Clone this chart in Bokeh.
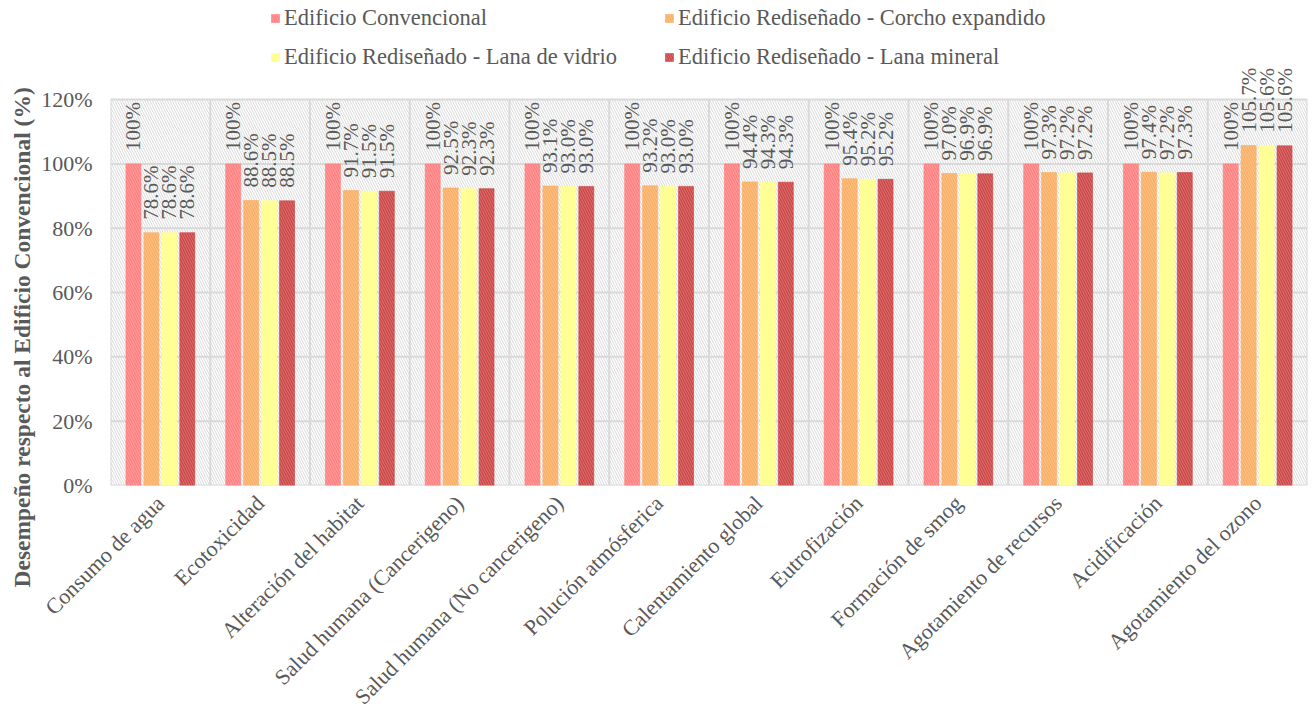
import math
from bokeh.plotting import figure
from bokeh.models import Range1d, FixedTicker, Legend, LegendItem, Title
from bokeh.core.properties import value
from bokeh.embed import file_html
from bokeh.resources import INLINE

categories = [
    "Consumo de agua", "Ecotoxicidad", "Alteración del habitat",
    "Salud humana (Cancerigeno)", "Salud humana (No cancerigeno)",
    "Polución atmósferica", "Calentamiento global", "Eutrofización",
    "Formación de smog", "Agotamiento de recursos", "Acidificación",
    "Agotamiento del ozono",
]
series_names = [
    "Edificio Convencional",
    "Edificio Rediseñado - Corcho expandido",
    "Edificio Rediseñado - Lana de vidrio",
    "Edificio Rediseñado - Lana mineral",
]
convencional = [100, 100, 100, 100, 100, 100, 100, 100, 100, 100, 100, 100]
corcho = [78.6, 88.6, 91.7, 92.5, 93.1, 93.2, 94.4, 95.4, 97.0, 97.3, 97.4, 105.7]
vidrio = [78.6, 88.5, 91.5, 92.3, 93.0, 93.0, 94.3, 95.2, 96.9, 97.2, 97.2, 105.6]
mineral = [78.6, 88.5, 91.5, 92.3, 93.0, 93.0, 94.3, 95.2, 96.9, 97.2, 97.3, 105.6]
y_ticks = [0, 20, 40, 60, 80, 100, 120]
y_tick_labels = ["0%", "20%", "40%", "60%", "80%", "100%", "120%"]
y_title = "Desempeño respecto al Edificio Convencional (%)"

colors = ["#FF7F7F", "#FAAE63", "#FFFF8A", "#CC4545"]
FONT = "Liberation Serif"
TXT = "#595959"
GRID = "#D9D9D9"

n = len(categories)
series = [convencional, corcho, vidrio, mineral]
offsets = [-0.27, -0.09, 0.09, 0.27]
bar_w = 0.15

p = figure(width=1308, height=721, x_range=Range1d(0, n), y_range=Range1d(0, 150.8),
           output_backend="svg", toolbar_location=None,
           min_border_left=110, min_border_right=1, min_border_top=0, min_border_bottom=236)
p.outline_line_color = None
p.xgrid.visible = False
p.ygrid.visible = False

ymax = y_ticks[-1]
# hatched plot area
p.quad(left=0, right=n, bottom=0, top=ymax, fill_color="white",
       hatch_pattern="left_diagonal_line", hatch_color=GRID, hatch_scale=5, hatch_weight=1,
       line_color=None)
# grid lines
p.segment(x0=[0] * len(y_ticks), x1=[n] * len(y_ticks), y0=y_ticks, y1=y_ticks,
          line_color=GRID, line_width=2)
bounds = list(range(n + 1))
p.segment(x0=bounds, x1=bounds, y0=[0] * len(bounds), y1=[ymax] * len(bounds),
          line_color=GRID, line_width=2)

renderers = []
for k, vals in enumerate(series):
    xs = [i + 0.5 + offsets[k] for i in range(n)]
    r = p.vbar(x=xs, top=vals, width=bar_w, bottom=0, fill_color=colors[k],
               line_color=colors[k], line_alpha=0.6,
               hatch_pattern="left_diagonal_line", hatch_color="white",
               hatch_alpha=0.25, hatch_scale=5, hatch_weight=1)
    renderers.append(r)
    labels = ["100%" if k == 0 else f"{v:.1f}%" for v in vals]
    p.text(x=xs, y=vals, text=labels, angle=math.pi / 2, text_align="left",
           text_baseline="middle", y_offset=-13, text_font=value(FONT),
           text_font_size="21px", text_color=TXT)

# axes
p.yaxis.ticker = FixedTicker(ticks=y_ticks)
p.yaxis.major_label_overrides = {t: l for t, l in zip(y_ticks, y_tick_labels)}
p.yaxis.bounds = (0, ymax)
p.yaxis.major_label_standoff = 12

centers = [i + 0.5 for i in range(n)]
p.xaxis.ticker = FixedTicker(ticks=centers)
p.xaxis.major_label_overrides = {c: lab for c, lab in zip(centers, categories)}
p.xaxis.major_label_orientation = math.pi / 4
p.xaxis.major_label_standoff = 8

for ax in (p.xaxis, p.yaxis):
    ax.axis_line_color = None
    ax.major_tick_line_color = None
    ax.minor_tick_line_color = None
    ax.major_label_text_font = FONT
    ax.major_label_text_font_size = "22px"
    ax.major_label_text_color = TXT

# y-axis title, placed like the original (starting below the plot area)
p.add_layout(Title(text=y_title, align="left", offset=-102, text_font=FONT,
                   text_font_size="23.5px", text_font_style="bold", text_color=TXT,
                   standoff=8), "left")

# legend
def make_legend(idx, loc):
    leg = Legend(items=[LegendItem(label=series_names[i], renderers=[renderers[i]]) for i in idx],
                 location=loc, orientation="vertical", margin=0, padding=0,
                 border_line_color=None, background_fill_alpha=0,
                 glyph_width=10, glyph_height=10, label_standoff=4, spacing=13,
                 label_text_font=FONT, label_text_font_size="22.5px", label_text_color=TXT)
    p.add_layout(leg)

make_legend([0, 2], (160, 415))
make_legend([1, 3], (554, 415))

open("out.html", "w").write(file_html(p, INLINE))
